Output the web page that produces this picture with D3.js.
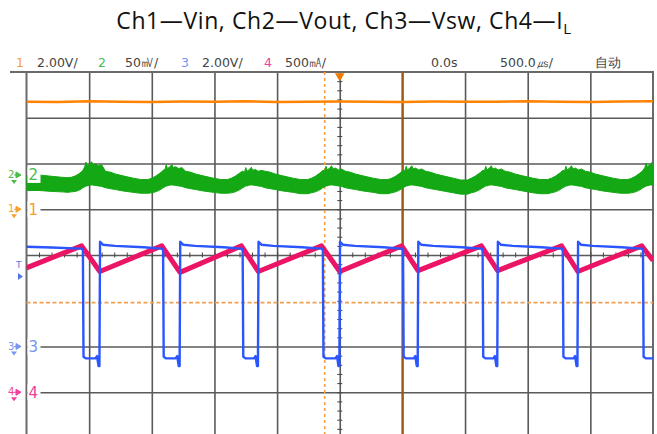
<!DOCTYPE html>
<html><head><meta charset="utf-8">
<script src="https://cdn.jsdelivr.net/npm/d3@7/dist/d3.min.js"></script>
<style>
html,body{margin:0;padding:0;background:#fff;}
svg{display:block;}
</style></head>
<body>
<svg id="c" width="657" height="434"></svg>
<script>
// ---------- data (time in µs, Vin/Vsw in V, Vout ripple in mV, IL in A) ----------
const headerLabels = [
  {t:"1", kind:"ch1"},{t:"2.00V/", kind:"txt"},
  {t:"2", kind:"ch2"},{t:"50㎷/", kind:"txt"},
  {t:"3", kind:"ch3"},{t:"2.00V/", kind:"txt"},
  {t:"4", kind:"ch4"},{t:"500㎃/", kind:"txt"},
  {t:"0.0s", kind:"txt"},{t:"500.0㎲/", kind:"txt"},{t:"自动", kind:"txt"}
];
const channelNames = ["1","2","3","4"];
const voltsPerDiv = [2, 50, 2, 0.5];
const groundDiv = [1.0, 1.75, -2.0, -3.0];

const vinT = [-2500,-2250,-2000,-1750,-1500,-1250,-1000,-750,-500,-250,0,250,500,750,1000,1250,1500,1750,2000,2250,2500];
const vinV = [4.70,4.69,4.72,4.70,4.69,4.71,4.70,4.72,4.69,4.70,4.71,4.70,4.69,4.71,4.70,4.70,4.72,4.70,4.69,4.71,4.72];

const voutT = [
  -2500,-2400,-2300,-2220,
  -2170,-2140,-2110,-2085,-2065,-2050,-2035,-2025,-2015,-1995,-1980,-1970,-1950,-1925,-1900,-1870,-1830,-1790,-1730,-1650,-1590,
  -1530,-1500,-1470,-1445,-1425,-1410,-1395,-1385,-1375,-1355,-1340,-1330,-1310,-1285,-1260,-1230,-1190,-1150,-1090,-1010,-950,
  -895,-865,-835,-810,-790,-775,-760,-750,-740,-720,-705,-695,-675,-650,-625,-595,-555,-515,-455,-375,-315,
  -255,-225,-195,-170,-150,-135,-120,-110,-100,-80,-65,-55,-35,-10,15,45,85,125,185,265,325,
  385,415,445,470,490,505,520,530,540,560,575,585,605,630,655,685,725,765,825,905,965,
  1020,1050,1080,1105,1125,1140,1155,1165,1175,1195,1210,1220,1240,1265,1290,1320,1360,1400,1460,1540,1600,
  1660,1690,1720,1745,1765,1780,1795,1805,1815,1835,1850,1860,1880,1905,1930,1960,2000,2040,2100,2180,2240,
  2300,2330,2360,2385,2405,2420,2435,2445,2455,2475,2490,2500];
const voutHi = [
  -1,0,-1.5,-2.5,
  -3,-2.5,-1,1,3,5,9,14,10,12,14.5,11,12,10,11,4,3,1,-1,-3.5,-5,
  -5,-3.5,-1.5,1,3,5,6,11,7,9,11.5,8,9,7,8,4,3,1,-1,-3.5,-5,
  -5,-3.5,-1.5,1,3,4,3,8,4,6,8.5,5,6,4,5,4,3,1,-1,-3.5,-5,
  -5,-3.5,-1.5,1,3,5,4.5,9.5,5.5,7.5,10,6.5,7.5,5.5,6.5,4,3,1,-1,-3.5,-5,
  -5,-3.5,-1.5,1,3,5,4.5,9.5,5.5,7.5,10,6.5,7.5,5.5,6.5,4,3,1,-1,-3.5,-5.5,
  -5.5,-3.5,-1.5,1,3,5,4.5,9.5,5.5,7.5,10,6.5,7.5,5.5,6.5,4,3,1,-1,-3.5,-5,
  -5,-3.5,-1.5,1,3,5,4.5,9.5,5.5,7.5,10,6.5,7.5,5.5,6.5,4,3,1,-1,-3.5,-5,
  -5,-3.5,-1.5,1,3,5,8,13,9,11,13.5,10];
const voutLo = [
  -17,-17,-18,-18.5,
  -19,-18.5,-18,-17,-15.5,-14,-13,-12,-12,-11,-11,-11,-11.5,-12,-12.5,-14,-15,-16,-17.5,-19,-20,
  -20,-19.5,-18.5,-17,-15.5,-14,-13,-12,-12,-11,-11,-11,-11.5,-12,-12.5,-14,-15,-16,-17.5,-19,-20,
  -20,-19.5,-18.5,-17,-15.5,-14,-13,-12,-12,-11,-11,-11,-11.5,-12,-12.5,-14,-15,-16,-17.5,-19,-20.5,
  -20.5,-19.5,-18.5,-17,-15.5,-14,-13,-12,-12,-11,-11,-11,-11.5,-12,-12.5,-14,-15,-16,-17.5,-19,-20.5,
  -20.5,-19.5,-18.5,-17,-15.5,-14,-13,-12,-12,-11,-11,-11,-11.5,-12,-12.5,-14,-15,-16,-17.5,-19.5,-21,
  -21,-19.5,-18.5,-17,-15.5,-14,-13,-12,-12,-11,-11,-11,-11.5,-12,-12.5,-14,-15,-16,-17.5,-19.5,-20.5,
  -20.5,-19.5,-18.5,-17,-15.5,-14,-13,-12,-12,-11,-11,-11,-11.5,-12,-12.5,-14,-15,-16,-17.5,-19,-20,
  -20,-19.5,-18.5,-17,-15.5,-14,-13,-12,-12,-11,-11,-11];

const vswT = [-2500,-2300,-2070,
  -2050,-2045,-2025,-1950,-1937,-1925,-1918,-1913,-1890,-1795,-1565,-1430,
  -1410,-1405,-1385,-1310,-1297,-1285,-1278,-1273,-1250,-1155,-925,-795,
  -775,-770,-750,-685,-672,-660,-653,-648,-625,-530,-300,-155,
  -135,-130,-110,-35,-22,-10,-3,2,25,120,350,485,
  505,510,530,590,603,615,622,627,650,745,975,1120,
  1140,1145,1165,1225,1238,1250,1257,1262,1285,1380,1610,1760,
  1780,1785,1805,1865,1878,1890,1897,1902,1925,2020,2250,2400,
  2420,2425,2445,2500];
const vswV = [4.36,4.33,4.28,
  4.27,-0.45,-0.52,-0.52,-0.42,-0.85,-0.85,4.58,4.45,4.40,4.34,4.28,
  4.27,-0.45,-0.52,-0.52,-0.42,-0.85,-0.85,4.58,4.45,4.40,4.34,4.28,
  4.27,-0.45,-0.52,-0.52,-0.42,-0.85,-0.85,4.58,4.45,4.40,4.34,4.28,
  4.27,-0.45,-0.52,-0.52,-0.42,-0.85,-0.85,4.58,4.45,4.40,4.34,4.28,
  4.27,-0.45,-0.52,-0.52,-0.42,-0.85,-0.85,4.58,4.45,4.40,4.34,4.28,
  4.27,-0.45,-0.52,-0.52,-0.42,-0.85,-0.85,4.58,4.45,4.40,4.34,4.28,
  4.27,-0.45,-0.52,-0.52,-0.42,-0.85,-0.85,4.58,4.45,4.40,4.34,4.28,
  4.27,-0.45,-0.52,-0.52];

const iLT = [-2500,-2060,-1915,-1420,-1275,-785,-650,-145,0,495,625,1130,1260,1770,1900,2410,2500];
const iLV = [1.36,1.60,1.32,1.60,1.31,1.60,1.32,1.60,1.32,1.60,1.33,1.60,1.33,1.60,1.32,1.60,1.44];

// ---------- layout ----------
const svg = d3.select("#c");
const X0 = 26.5, X1 = 653, Y0 = 72, Y1 = 438;
const x = d3.scaleLinear().domain([-2500, 2500]).range([X0, X1]);
const yDiv = d3.scaleLinear().domain([-4, 4]).range([Y1, Y0]);
const yCh = (ch, v) => yDiv(groundDiv[ch] + v / voltsPerDiv[ch]);

const colors = {ch1:"#ff8200", ch2:"#14a814", ch3:"#2a55ff", ch4:"#ec1464"};
const markColors = ["#f7a030", "#4cbc4c", "#7896f0", "#f0409a"];

svg.append("rect").attr("width",657).attr("height",434).attr("fill","#fff");

// title
const title = svg.append("text").attr("x", 344).attr("y", 29)
  .attr("text-anchor","middle").attr("font-family","Open Sans, sans-serif")
  .attr("font-size", 23).attr("fill","#111");
title.append("tspan").text("Ch1\u2014Vin, Ch2\u2014Vout, Ch3\u2014Vsw, Ch4\u2014I");
title.append("tspan").text("L").attr("font-size", 15).attr("dy", 5);
{
  const w = title.node().getComputedTextLength();
  const ls = Math.max(-0.5, Math.min(0.6, (458 - w) / 35));
  title.attr("letter-spacing", ls);
}

// header
const hdrX = [16, 37, 98, 125, 181, 202, 264, 285, 431, 500, 595];
const hdr = svg.append("g").attr("font-family","DejaVu Sans, sans-serif").attr("font-size",12.5);
const hdrCol = {ch1:"#f7a030",ch2:"#4cbc4c",ch3:"#7896f0",ch4:"#f0409a",txt:"#444"};
headerLabels.forEach((h,i)=>{
  hdr.append("text").attr("x", hdrX[i]).attr("y", 66.5).text(h.t).attr("fill", hdrCol[h.kind]);
});

// clip for traces
svg.append("clipPath").attr("id","scr").append("rect")
  .attr("x",X0).attr("y",Y0).attr("width",X1-X0).attr("height",Y1-Y0);

// grid via axes
const gridV = svg.append("g").attr("transform",`translate(0,${Y0})`)
  .call(d3.axisBottom(x).tickValues(d3.range(-2000, 2001, 500)).tickSize(Y1-Y0).tickFormat(""));
const gridH = svg.append("g").attr("transform",`translate(${X0},0)`)
  .call(d3.axisRight(yDiv).tickValues([-3,-2,0,1,2,3]).tickSize(X1-X0).tickFormat(""));
[gridV, gridH].forEach(g=>{
  g.select(".domain").remove();
  g.selectAll("line").attr("stroke","#5a5a5a").attr("stroke-width",1.6);
});

// minor ticks on centre axes
const mt1 = svg.append("g").attr("transform",`translate(${x(0)-2.5},0)`)
  .call(d3.axisRight(yDiv).tickValues(d3.range(-3.8, 4, 0.2)).tickSize(5).tickFormat(""));
const mt2 = svg.append("g").attr("transform",`translate(0,${yDiv(0)-2.5})`)
  .call(d3.axisBottom(x).tickValues(d3.range(-2400, 2500, 100)).tickSize(5).tickFormat(""));
[mt1, mt2].forEach(g=>{ g.select(".domain").remove(); g.selectAll("line").attr("stroke","#444").attr("stroke-width",1); });

// frame
svg.append("line").attr("x1",10).attr("x2",X1+1).attr("y1",Y0).attr("y2",Y0).attr("stroke","#6a6a6a").attr("stroke-width",2);
svg.append("line").attr("x1",X0).attr("x2",X0).attr("y1",Y0).attr("y2",Y1).attr("stroke","#6a6a6a").attr("stroke-width",2);
svg.append("line").attr("x1",X1).attr("x2",X1).attr("y1",Y0).attr("y2",Y1).attr("stroke","#6a6a6a").attr("stroke-width",2);

// cursors
svg.append("line").attr("x1",x(-120)).attr("x2",x(-120)).attr("y1",Y0).attr("y2",Y1)
  .attr("stroke","#f6a040").attr("stroke-width",1.6).attr("stroke-dasharray","3,3");
svg.append("line").attr("x1",X0).attr("x2",X1).attr("y1",yDiv(-1.04)).attr("y2",yDiv(-1.04))
  .attr("stroke","#f0a050").attr("stroke-width",1.8).attr("stroke-dasharray","4,2.5");
svg.append("line").attr("x1",x(500)).attr("x2",x(500)).attr("y1",Y0).attr("y2",Y1)
  .attr("stroke","#9a5a12").attr("stroke-width",2);

// traces
const tr = svg.append("g").attr("clip-path","url(#scr)");
const line = ch => d3.line().x(d=>x(d[0])).y(d=>yCh(ch,d[1]));
tr.append("path").datum(vinT.map((t,i)=>[t,vinV[i]])).attr("d", line(0))
  .attr("fill","none").attr("stroke",colors.ch1).attr("stroke-width",2.6);
tr.append("path").datum(voutT.map((t,i)=>[t,voutHi[i],voutLo[i]]))
  .attr("d", d3.area().x(d=>x(d[0])).y0(d=>yCh(1,d[2])).y1(d=>yCh(1,d[1])))
  .attr("fill",colors.ch2).attr("stroke",colors.ch2).attr("stroke-width",1);
tr.append("path").datum(iLT.map((t,i)=>[t,iLV[i]])).attr("d", line(3))
  .attr("fill","none").attr("stroke",colors.ch4).attr("stroke-width",5).attr("stroke-linejoin","round");
tr.append("path").datum(vswT.map((t,i)=>[t,vswV[i]])).attr("d", line(2))
  .attr("fill","none").attr("stroke",colors.ch3).attr("stroke-width",2.4).attr("stroke-linejoin","round");

// trigger marker at top
svg.append("path").attr("d", d3.symbol(d3.symbolTriangle, 40)())
  .attr("transform",`translate(${x(0)},${Y0+4}) rotate(180)`).attr("fill","#f07a00");

// channel markers on left
channelNames.forEach((n,i)=>{
  const yy = yDiv(groundDiv[i]);
  const c = markColors[i];
  const g = svg.append("g");
  g.append("rect").attr("x",X0+1).attr("y",yy-8).attr("width",13).attr("height",16).attr("fill","#fff");
  g.append("text").attr("x",8).attr("y",yy+3).attr("font-family","DejaVu Sans, sans-serif")
    .attr("font-size",10).attr("fill",c).text(n);
  g.append("path").attr("d",`M16,${yy-3}L21,${yy}L16,${yy+3}Z M14,${yy}H21`).attr("fill",c).attr("stroke",c).attr("stroke-width",1);
  g.append("path").attr("d",`M11,${yy+5}H17L14,${yy+9}Z`).attr("fill",c);
  g.append("text").attr("x",X0+2).attr("y",yy+5.5).attr("font-family","DejaVu Sans, sans-serif")
    .attr("font-size",15).attr("fill",c).text(n);
});
// trigger level marker
svg.append("text").attr("x",16).attr("y",268).attr("font-family","DejaVu Sans, sans-serif")
  .attr("font-size",9).attr("fill","#5577ee").text("T");
svg.append("path").attr("d","M18,273L23,276.5L18,280Z").attr("fill","#5577ee");
</script>
</body></html>
